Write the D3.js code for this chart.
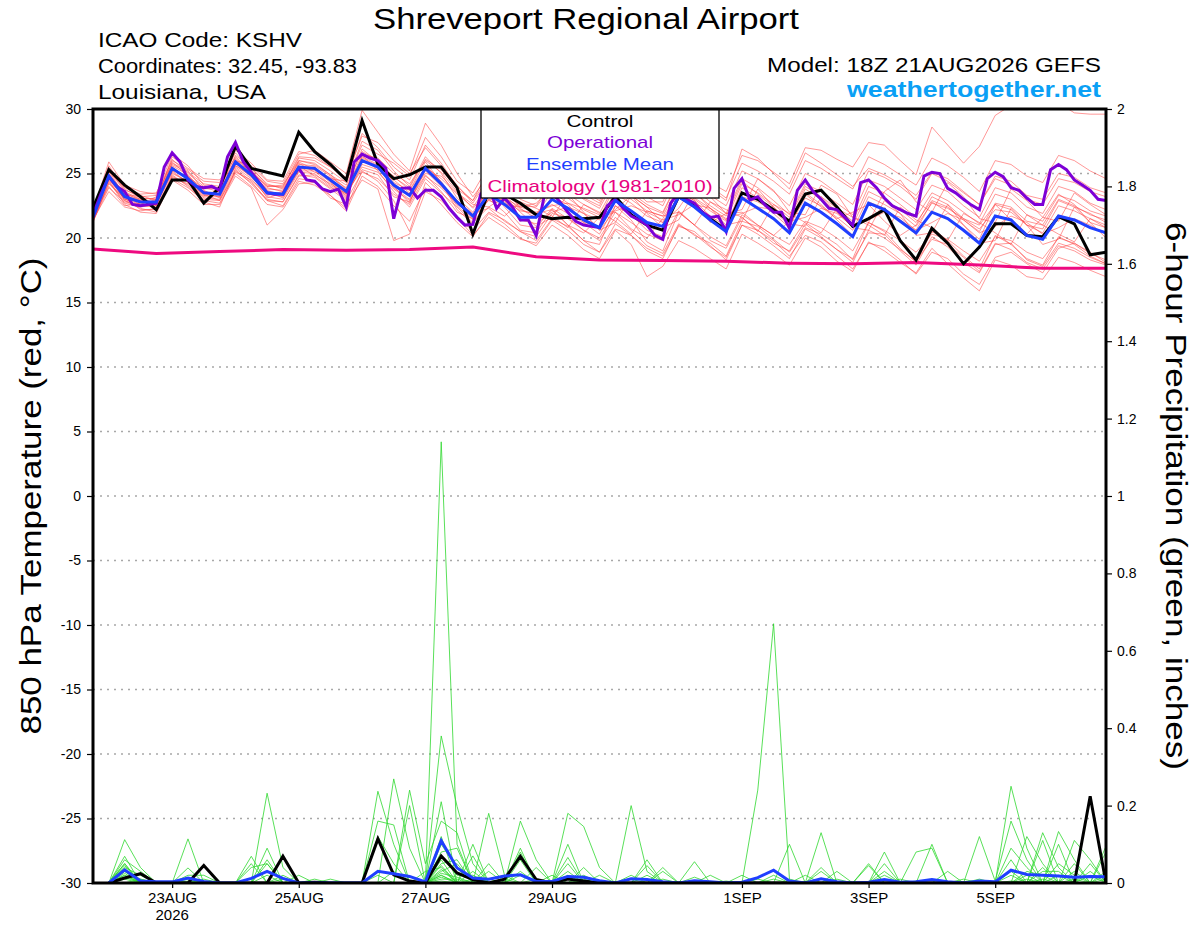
<!DOCTYPE html>
<html><head><meta charset="utf-8">
<script src="https://cdn.jsdelivr.net/npm/d3@7"></script>
<style>
body{margin:0;background:#fff}
svg{display:block}
text{font-family:"Liberation Sans",Arial,Helvetica,sans-serif}
</style>
</head><body>
<svg id="chart" width="1200" height="927"></svg>
<script>
// ---------------- DATA ----------------
const runStartUTC = [2026, 7, 21, 18];      // 18Z 21AUG2026
const tempTicks = [-30,-25,-20,-15,-10,-5,0,5,10,15,20,25,30];
const precipTicks = [0,0.2,0.4,0.6,0.8,1,1.2,1.4,1.6,1.8,2];
const precipTickLabels = ["0","0.2","0.4","0.6","0.8","1","1.2","1.4","1.6","1.8","2"];
const dateTicks = ["2026-08-23","2026-08-25","2026-08-27","2026-08-29","2026-09-01","2026-09-03","2026-09-05"];
const dateTickLabels = ["23AUG","25AUG","27AUG","29AUG","1SEP","3SEP","5SEP"];

// 6-hourly control temperature
const controlTemp = [22.3,25.3,24.1,23.2,22.2,24.5,24.5,22.7,23.9,27.1,25.4,25.1,24.8,28.2,26.7,25.7,24.5,29.1,25.7,24.6,24.9,25.5,25.5,23.9,20.3,23.6,23.4,22.7,21.8,21.5,21.6,21.5,21.6,23.2,21.8,21.0,20.6,23.2,22.5,21.5,20.6,23.5,23.0,22.2,21.3,23.4,23.7,22.4,20.9,21.5,22.2,19.8,18.3,20.75,19.6,18.0,19.3,21.1,21.1,20.2,20.1,21.65,21.1,18.7,18.9];
// 6-hourly ensemble mean temperature
const meanTemp = [21.6,24.8,23.2,22.8,22.8,25.4,24.6,23.5,23.4,25.9,24.9,23.5,23.4,25.5,25.4,24.5,23.6,26.0,25.5,24.1,23.3,25.4,24.2,22.8,21.7,23.4,22.6,21.6,21.6,23.0,22.3,21.4,20.8,22.9,22.1,21.2,20.9,23.2,22.4,21.4,20.5,23.1,22.3,21.5,20.4,22.7,22.0,21.1,20.1,22.7,22.2,21.3,20.4,22.0,21.5,20.6,19.6,21.7,21.4,20.2,19.9,21.7,21.4,20.8,20.4];
// 3-hourly operational temperature
const operationalTemp = [21.8,23.4,24.75,24.0,23.6,22.6,22.5,22.6,22.7,25.5,26.6,25.9,24.5,24.0,23.9,24.0,23.7,26.3,27.4,25.9,25.1,24.3,23.5,23.4,23.4,24.6,25.4,24.5,24.4,23.8,23.6,23.8,22.4,25.9,26.5,26.2,26.0,25.4,21.5,23.85,23.9,23.1,23.7,23.7,23.2,22.3,21.6,21.0,21.05,23.4,24.0,22.3,23.1,22.4,21.4,21.4,20.2,23.2,23.5,22.8,22.0,21.3,21.0,20.9,20.8,22.5,23.0,22.3,21.7,21.4,21.0,20.2,19.9,22.7,23.5,23.0,22.7,22.0,21.6,21.7,20.5,23.85,24.6,22.95,23.2,22.5,22.0,22.0,20.75,23.7,24.5,23.6,23.0,22.3,22.2,21.6,21.0,24.3,24.5,23.9,23.1,22.5,22.2,21.9,21.7,24.8,25.1,25.0,23.85,23.5,23.0,22.55,22.2,24.6,25.1,24.75,23.9,23.7,23.1,22.6,22.6,25.3,25.7,25.3,24.5,24.1,23.7,23.0,22.9];
// daily (18Z) climatology 1981-2010
const climatologyTemp = [19.15,18.8,18.95,19.1,19.05,19.1,19.3,18.55,18.3,18.25,18.2,18.05,18.0,18.1,17.9,17.65,17.65];

// ensemble member temperatures (6-hourly)
const tempMember01 = [21.9,25.6,23.8,23.1,23.0,26.1,25.0,24.0,23.8,26.4,25.5,24.1,23.9,26.2,26.0,25.2,24.3,27.5,26.8,25.2,24.0,26.3,25.0,23.1,22.0,23.8,22.4,21.0,20.8,22.3,21.5,20.6,20.0,22.0,21.2,20.3,19.8,22.1,21.0,20.1,19.4,21.8,21.0,20.2,19.5,21.3,20.8,20.0,19.0,21.2,20.6,19.8,18.9,20.3,19.9,19.0,18.2,20.1,19.8,18.9,18.4,20.0,19.6,18.8,18.3];
const tempMember02 = [21.3,23.9,22.8,22.5,22.4,24.8,24.1,23.0,22.9,25.2,24.3,23.0,22.8,24.9,24.7,23.8,22.9,25.1,24.6,23.4,22.6,24.8,23.9,22.6,21.8,23.9,23.4,22.5,22.4,24.0,23.4,22.6,21.9,24.2,23.5,22.6,22.0,24.5,23.8,22.8,21.9,24.6,23.9,22.9,21.8,24.2,23.6,22.7,21.8,24.5,24.0,23.1,22.2,24.1,23.6,22.5,21.6,23.9,23.5,22.4,21.9,24.0,23.6,22.7,22.2];
const tempMember03 = [21.7,24.9,23.5,22.9,22.6,25.9,24.8,23.6,23.2,26.3,25.2,23.9,23.6,26.0,25.8,24.9,24.1,26.7,26.0,24.7,23.9,26.1,25.3,23.8,22.9,24.7,24.2,23.4,23.0,25.1,24.6,23.6,22.9,25.5,24.8,23.9,23.2,26.0,25.4,24.3,23.6,26.4,26.0,25.1,24.2,27.0,26.8,26.1,25.5,27.4,27.2,26.0,24.9,28.6,27.2,25.8,27.1,29.5,30.3,30.8,31.0,30.5,29.7,29.6,29.6];
const tempMember04 = [21.5,25.0,23.4,23.0,23.1,25.7,25.1,24.2,24.0,26.0,25.6,24.4,24.2,26.5,26.8,25.9,25.0,29.9,28.2,26.5,25.2,28.9,27.2,25.0,23.2,24.8,23.9,22.3,21.5,23.2,22.6,21.2,20.3,22.5,21.8,20.6,20.1,23.6,22.9,21.7,20.9,23.9,23.1,21.9,20.8,23.5,22.6,21.4,20.2,22.8,22.3,21.4,20.6,22.8,22.0,21.0,19.9,22.6,22.2,21.0,20.4,22.5,22.1,21.5,21.0];
const tempMember05 = [21.4,24.3,22.9,22.3,22.0,24.9,24.0,22.8,22.4,25.3,24.2,22.9,22.5,24.6,24.4,23.3,22.1,24.8,24.0,22.5,21.3,23.9,22.6,21.2,20.1,21.9,21.1,20.0,19.4,21.0,20.2,19.1,18.4,20.6,19.5,17.0,17.8,19.8,19.2,18.4,17.6,20.3,19.6,18.8,17.9,20.0,19.3,18.2,17.4,19.7,19.0,18.1,17.3,19.2,18.0,16.9,15.9,18.3,17.9,17.0,16.8,18.5,18.1,17.5,17.0];
const tempMember06 = [21.8,24.6,23.0,22.6,23.2,25.2,24.3,23.8,23.9,25.5,24.6,23.2,23.0,25.1,25.0,24.0,23.0,26.4,25.2,23.6,22.4,24.6,23.5,22.4,21.2,22.4,23.2,22.0,20.9,21.6,23.4,22.0,20.6,21.2,23.3,21.9,20.8,21.4,23.6,22.3,21.0,21.3,23.8,22.4,21.1,20.9,23.2,22.0,20.8,20.6,22.9,21.9,20.2,20.4,22.6,21.0,19.6,19.8,22.3,21.0,19.5,19.9,22.4,21.2,20.0];
const tempMember07 = [21.9,25.3,23.6,23.0,22.5,25.5,24.5,23.3,23.5,25.6,25.0,23.8,23.7,25.8,25.1,24.7,23.9,26.2,25.6,24.8,23.7,25.9,24.3,22.2,21.1,23.0,22.9,22.1,21.9,22.6,21.9,21.2,20.9,23.8,23.0,22.1,21.7,24.0,23.0,22.1,21.3,23.2,22.8,22.1,21.0,23.1,22.5,21.6,20.6,23.2,22.6,21.9,20.9,22.7,22.3,21.5,20.7,22.2,22.0,21.0,20.7,22.9,22.4,21.9,21.2];
const tempMember08 = [21.2,24.4,22.6,22.0,21.9,24.6,23.9,22.9,22.7,25.0,24.0,22.6,22.4,24.4,24.1,23.3,22.3,25.2,24.4,22.9,20.5,24.3,23.1,21.5,20.6,22.0,21.4,20.5,19.8,21.5,20.9,19.8,18.9,20.7,20.2,19.2,18.6,20.9,20.5,19.4,18.3,21.0,20.6,19.8,18.6,20.2,19.7,18.6,17.6,19.6,19.3,18.3,17.2,18.9,18.4,17.2,16.4,18.5,18.9,18.0,17.3,19.2,19.6,18.9,18.1];
const tempMember09 = [22.0,25.1,23.9,23.4,23.5,26.0,25.3,24.4,24.3,26.6,25.3,24.0,24.1,26.0,25.7,24.9,23.8,26.9,25.9,24.3,23.7,25.5,24.6,23.4,22.4,24.1,23.3,22.2,21.8,23.6,22.7,21.9,21.4,23.4,22.7,21.7,21.2,23.8,23.1,22.3,21.4,24.2,23.5,22.6,21.6,24.0,23.2,22.3,21.3,24.0,23.5,22.6,21.6,23.5,22.9,22.0,21.1,23.4,23.0,21.8,21.3,23.3,22.9,22.1,21.7];
const tempMember10 = [21.5,24.5,22.7,22.4,22.6,25.0,24.4,23.1,23.0,25.4,24.4,22.9,22.8,24.8,24.9,24.2,23.4,25.5,25.1,23.8,22.9,24.9,23.6,22.0,21.5,24.0,22.9,21.3,21.9,22.2,21.0,20.4,21.6,22.0,20.7,20.0,21.5,23.6,22.9,21.2,21.9,22.0,21.0,20.2,21.3,23.4,22.4,21.5,22.0,22.6,21.3,20.2,21.0,23.2,22.6,21.5,21.0,22.6,21.4,20.3,21.6,23.4,22.6,21.2,20.8];
const tempMember11 = [22.1,25.9,24.1,23.6,23.4,26.5,25.6,24.1,23.7,26.8,25.8,24.5,24.4,26.7,26.4,25.5,24.5,28.1,27.0,25.5,24.5,27.2,25.8,24.0,22.9,25.3,24.5,23.5,23.2,25.4,24.5,23.4,22.7,25.0,24.3,23.2,22.5,25.1,24.3,23.3,22.5,25.2,24.6,23.6,22.5,25.0,24.4,23.5,22.6,25.2,24.7,24.0,23.0,25.0,24.4,23.5,22.6,24.8,24.4,23.3,23.0,25.0,24.7,23.9,23.5];
const tempMember12 = [21.6,24.0,22.5,22.7,22.9,25.6,24.9,23.6,23.3,25.8,24.7,23.6,23.1,25.3,25.5,24.4,23.2,25.7,25.3,24.5,23.5,25.0,24.8,23.5,22.6,22.4,21.7,22.8,22.3,21.7,20.8,22.6,22.0,21.3,20.3,22.1,21.7,22.0,21.0,22.8,22.2,21.6,20.5,22.6,21.9,21.2,20.4,22.3,21.6,21.0,20.2,22.4,21.4,20.8,19.8,21.9,21.2,20.4,19.5,21.8,21.0,20.3,19.7,21.5,20.8];
const tempMember13 = [21.3,24.2,23.1,22.2,22.2,24.7,24.2,23.4,22.9,25.1,24.5,23.3,23.6,25.6,24.8,23.9,23.5,25.3,24.9,23.2,22.8,25.2,24.0,22.9,21.9,22.3,21.3,20.5,20.1,21.9,21.6,20.6,19.8,21.6,20.6,19.4,18.8,21.1,20.2,19.6,18.6,21.3,20.9,19.9,18.9,20.8,20.3,19.5,18.3,20.4,20.3,19.0,17.9,20.1,19.3,18.1,17.3,19.5,19.6,18.3,17.8,19.6,19.2,18.5,18.0];
const tempMember14 = [21.8,25.2,23.3,22.9,22.7,25.3,24.7,23.9,23.6,26.1,25.1,23.7,23.3,25.7,25.6,24.8,23.7,26.5,26.2,25.0,24.2,26.0,25.1,23.6,22.3,23.5,23.1,22.4,22.7,23.9,23.1,22.2,21.6,24.0,23.3,22.4,21.9,24.4,23.5,22.5,21.7,24.4,23.4,22.4,21.3,23.8,23.0,22.0,21.0,23.6,23.0,22.2,21.2,22.9,22.4,21.4,20.5,22.7,22.4,21.3,21.0,23.0,22.5,21.8,21.4];
const tempMember15 = [21.4,23.6,22.4,22.1,22.3,24.5,23.7,22.6,22.6,24.8,23.9,21.0,22.2,24.2,24.3,23.1,22.6,24.5,23.8,19.8,20.3,23.6,22.9,21.6,20.2,21.6,20.8,19.9,19.6,21.4,20.6,19.5,18.9,21.1,20.2,19.0,18.4,21.0,20.3,19.3,18.5,21.0,20.3,19.4,18.4,20.7,20.0,19.1,18.1,20.6,20.0,19.1,18.2,19.9,19.5,18.5,17.4,19.6,19.1,18.1,17.6,19.4,19.0,18.3,17.9];
const tempMember16 = [21.7,24.7,23.4,23.2,23.3,25.8,25.2,23.7,23.1,25.7,25.4,24.2,23.8,25.9,25.3,24.6,24.4,27.2,26.5,25.8,24.8,27.8,26.3,24.4,23.5,25.6,24.8,23.9,23.6,24.9,24.0,23.0,22.3,24.6,23.9,22.8,22.8,25.6,24.9,24.0,23.1,25.8,25.2,24.4,23.4,26.0,25.4,24.6,23.8,26.3,25.7,24.9,24.1,26.2,25.6,24.7,23.6,26.0,25.7,24.8,24.3,26.4,26.0,25.2,24.6];
const tempMember17 = [21.5,24.9,22.9,22.5,22.8,25.1,24.3,23.2,23.2,25.6,24.8,23.4,23.2,25.2,25.2,24.1,23.3,26.1,25.4,23.9,23.0,25.3,24.1,22.5,21.4,23.6,22.8,21.4,21.1,22.0,22.4,21.9,20.6,22.2,23.3,22.4,21.2,22.3,24.1,23.2,21.9,22.2,24.6,23.7,22.0,21.8,24.1,23.4,21.6,21.2,23.6,24.5,22.8,22.0,24.3,23.2,21.5,21.2,23.8,22.9,21.6,21.3,23.5,22.6,21.8];
const tempMember18 = [21.9,25.4,23.7,23.3,22.9,26.3,25.4,24.6,24.5,26.2,25.1,24.0,24.0,26.3,26.2,25.5,24.7,27.9,27.4,26.0,25.0,27.0,25.6,24.1,22.7,24.6,24.0,23.0,22.5,24.4,23.9,23.1,22.5,25.0,24.4,23.5,23.1,25.3,24.6,23.8,22.9,26.9,26.2,25.0,23.8,26.6,25.8,24.9,24.0,25.4,24.9,24.2,23.3,25.1,24.6,23.6,22.6,24.6,24.1,23.0,22.6,24.6,24.3,23.6,23.2];
const tempMember19 = [21.6,24.6,23.0,22.8,22.5,25.2,24.8,23.3,23.4,25.9,24.9,23.1,23.5,25.4,25.3,24.3,23.1,26.3,25.7,24.0,22.7,25.6,24.4,22.7,21.5,23.0,22.0,20.6,20.4,22.2,21.0,19.8,19.5,22.5,21.4,19.7,19.0,22.0,21.0,19.8,19.2,21.6,20.6,19.6,19.0,21.1,20.1,19.1,18.4,21.2,20.5,19.2,18.1,20.5,19.8,18.6,17.6,20.2,19.5,18.4,17.9,20.1,19.5,18.6,18.0];
const tempMember20 = [21.7,25.0,23.2,22.6,23.0,25.5,24.5,23.5,23.6,26.0,25.0,23.5,23.4,25.5,25.5,24.4,23.4,25.9,25.5,24.2,23.4,25.5,24.2,22.9,21.8,22.9,22.6,22.4,22.0,22.5,22.7,22.3,21.8,22.1,22.5,22.0,21.4,21.8,22.6,22.3,21.5,21.9,22.4,22.2,21.3,21.6,22.3,21.9,20.9,21.4,22.0,21.6,20.6,21.2,21.9,21.4,20.4,20.9,21.7,21.2,20.3,20.8,21.5,21.0,20.3];

// 6-hour precipitation (inches); first step has no accumulation
const controlPrecip = [null,0,0.013,0.024,0,0,0,0.045, 0,0,0,0,0.069,0,0.002,0, 0,0,0.114,0.021,0.005,0,0.07,0.026, 0.009,0,0.01,0.069,0.009,0,0.01,0.005, 0,0,0,0,0,0,0,0, 0,0,0,0,0,0,0,0, 0,0,0,0,0,0,0,0, 0,0,0,0,0,0,0,0.224, 0];
const meanPrecip = [null,0,0.034,0.005,0.003,0.003,0.013,0.004, 0,0,0.012,0.03,0.012,0,0,0, 0,0,0.03,0.024,0.017,0.003,0.109,0.039, 0.013,0.01,0.018,0.021,0.004,0.004,0.017,0.015, 0.006,0,0.011,0.009,0.003,0,0.006,0.003, 0,0.002,0.014,0.033,0.005,0,0.011,0.003, 0,0.002,0.009,0.002,0.003,0.009,0.003,0, 0.005,0.003,0.033,0.022,0.02,0.018,0.015,0.017, 0.016];
const precipMember01 = [null,0,0.112,0.04,0,0,0,0, 0,0,0,0.05,0,0,0,0, 0,0,0.237,0.1,0,0,1.14,0.1, 0,0,0,0,0,0,0.05,0, 0,0,0,0,0,0,0,0, 0,0,0,0.02,0,0,0,0, 0,0,0,0,0,0,0,0, 0,0,0.06,0,0,0.1,0,0, 0];
const precipMember02 = [null,0,0.069,0,0,0,0.114,0, 0,0,0,0.232,0.04,0,0,0, 0,0,0,0,0,0,0.38,0.198, 0.05,0,0,0,0,0,0,0, 0,0,0.2,0.03,0,0,0,0, 0,0,0,0,0,0,0,0, 0,0,0.03,0,0,0,0,0, 0,0,0,0.12,0.05,0,0,0, 0];
const precipMember03 = [null,0,0.06,0.03,0,0,0,0, 0,0,0.069,0,0,0,0,0, 0,0,0,0.269,0.09,0,0.21,0, 0,0.18,0.02,0,0,0,0.18,0.146, 0.04,0,0,0,0,0,0,0, 0,0,0,0,0,0,0.13,0, 0,0,0,0,0,0,0,0, 0,0,0.25,0.09,0,0,0.05,0, 0];
const precipMember04 = [null,0,0.05,0,0,0,0.039,0, 0,0,0,0.09,0,0,0,0, 0,0,0,0,0.24,0.05,0.16,0.13, 0,0,0,0.16,0.06,0,0,0, 0,0,0,0,0,0,0,0, 0,0,0.24,0.67,0.01,0,0,0, 0,0,0,0,0,0.1,0,0, 0,0,0,0,0.13,0.04,0,0, 0];
const precipMember05 = [null,0,0.045,0,0,0,0,0, 0,0,0.05,0,0.069,0,0,0, 0,0,0.16,0.15,0,0,0.12,0, 0.1,0,0,0.09,0,0,0.1,0, 0,0,0,0,0.04,0,0,0, 0,0,0,0,0,0,0,0, 0,0.05,0,0,0,0,0,0, 0.12,0.005,0.16,0.06,0,0,0.11,0.06, 0];
const precipMember06 = [null,0,0.04,0.02,0,0,0,0, 0,0,0,0.06,0,0.02,0,0, 0,0,0,0,0.2,0,0.08,0.09, 0,0,0,0.08,0,0,0,0.04, 0,0,0,0,0,0,0.055,0, 0,0,0,0,0.1,0,0,0, 0,0,0.08,0,0,0,0,0, 0,0,0,0,0,0.133,0.06,0, 0.095];
const precipMember07 = [null,0,0.03,0,0,0,0.02,0.02, 0,0,0,0,0,0,0.01,0, 0,0,0.12,0.05,0,0,0.05,0.06, 0,0.05,0,0,0.04,0,0.066,0, 0,0,0,0.06,0,0,0,0, 0,0,0,0,0,0,0.04,0, 0,0,0,0,0.08,0.09,0,0, 0,0,0,0,0.11,0,0,0.05, 0];
const precipMember08 = [null,0,0.05,0,0,0,0,0, 0,0,0.04,0.05,0,0,0,0.01, 0,0,0,0,0,0.03,0.04,0, 0.07,0,0,0.06,0,0.02,0,0, 0,0,0.02,0,0.03,0,0,0.02, 0,0,0,0,0,0,0,0.03, 0,0,0.05,0,0,0,0,0, 0,0,0.09,0.04,0,0,0,0, 0.08];
const precipMember09 = [null,0,0.035,0,0,0,0,0, 0,0,0,0,0.01,0,0,0, 0,0,0,0,0,0,0.03,0.05, 0,0.03,0,0,0,0,0,0, 0.02,0,0,0.045,0,0,0,0, 0,0.02,0,0,0,0,0.03,0, 0,0.045,0,0,0,0,0.03,0, 0,0,0,0,0.03,0.03,0,0.03, 0];
const precipMember10 = [null,0,0.03,0.01,0,0,0,0, 0,0,0,0,0,0,0,0, 0,0,0,0,0,0,0.06,0, 0.03,0,0,0,0,0,0.03,0, 0,0,0,0,0,0,0.015,0, 0,0,0,0,0,0.02,0,0, 0,0,0,0,0,0,0,0.01, 0,0,0,0.02,0,0,0,0, 0.02];
const precipMember11 = [null,0,0.02,0,0,0,0,0.01, 0,0,0,0,0,0,0,0, 0,0,0,0,0,0,0.1,0.04, 0,0,0.01,0,0,0,0,0.02, 0,0,0,0,0,0,0,0, 0.005,0,0,0,0,0,0,0, 0,0,0,0.01,0,0,0,0, 0,0,0.03,0,0,0,0.03,0, 0];
const precipMember12 = [null,0,0,0,0,0,0.01,0, 0,0,0,0,0,0,0,0, 0,0,0,0.03,0,0,0.07,0.02, 0.02,0,0,0,0.01,0,0,0, 0,0,0,0.02,0,0,0,0, 0,0,0,0.01,0,0,0,0.01, 0,0,0,0,0,0,0,0, 0.01,0,0,0,0,0.02,0,0, 0.03];
const precipMember13 = [null,0,0.025,0,0,0,0,0, 0,0,0,0.02,0,0,0,0, 0,0,0,0,0,0,0.02,0, 0,0,0,0.03,0,0,0.02,0, 0,0,0,0,0,0,0,0, 0,0,0.01,0,0,0,0,0, 0,0,0,0,0,0,0,0, 0,0,0,0.03,0.02,0,0,0, 0];
const precipMember14 = [null,0,0.015,0,0,0,0,0, 0,0,0,0,0,0,0,0, 0,0,0,0,0,0,0.035,0, 0,0.01,0,0,0,0,0,0, 0,0,0.01,0,0,0,0,0, 0,0,0,0,0,0,0,0, 0,0,0.02,0,0,0,0,0, 0,0,0.02,0,0,0,0,0.02, 0];
const precipMember15 = [null,0,0,0,0,0,0,0, 0,0,0,0,0.02,0,0,0, 0,0,0,0,0,0,0.025,0.015, 0,0,0,0,0,0,0,0, 0,0,0,0,0.01,0,0,0, 0,0,0,0,0,0,0,0, 0,0,0,0,0,0.01,0,0, 0,0,0,0,0.04,0,0,0, 0];
const precipMember16 = [null,0,0,0.01,0,0,0,0, 0,0,0,0,0,0,0,0, 0,0,0.02,0,0,0,0.045,0, 0,0,0,0,0,0,0,0.01, 0,0,0,0,0,0,0,0, 0,0,0,0,0,0,0.01,0, 0,0,0,0,0,0,0,0, 0,0,0,0,0,0.05,0.02,0, 0];
const precipMember17 = [null,0,0.02,0,0,0,0,0, 0,0,0,0,0,0,0,0, 0,0,0,0,0,0,0.015,0, 0.01,0,0,0,0,0,0.01,0, 0,0,0,0,0,0,0,0, 0,0,0,0,0,0,0,0, 0,0,0,0,0,0,0,0, 0,0,0,0.01,0,0,0,0, 0.01];
const precipMember18 = [null,0,0,0,0,0,0.005,0, 0,0,0,0,0,0,0,0, 0,0,0,0,0,0,0.02,0, 0,0,0,0.02,0,0,0,0, 0,0,0,0,0,0,0,0, 0,0,0,0,0,0,0,0, 0,0,0,0,0.005,0,0,0, 0,0,0,0,0,0,0.01,0, 0];
const precipMember19 = [null,0,0.01,0,0,0,0,0, 0,0,0,0,0,0,0,0, 0,0,0,0,0,0,0.01,0.01, 0,0,0,0,0,0,0,0, 0,0,0,0,0,0,0,0, 0,0,0,0,0,0,0,0, 0,0,0,0,0,0,0,0, 0,0,0,0,0.01,0,0,0, 0];
const precipMember20 = [null,0,0,0,0,0,0,0, 0,0,0,0,0,0,0,0, 0,0,0,0,0,0,0.005,0, 0,0,0,0,0,0,0,0, 0,0,0,0,0,0,0,0, 0,0,0,0,0,0,0,0, 0,0,0,0,0,0,0,0, 0,0,0.005,0,0,0,0,0, 0];

const tempMembers = [tempMember01,tempMember02,tempMember03,tempMember04,tempMember05,tempMember06,tempMember07,tempMember08,tempMember09,tempMember10,tempMember11,tempMember12,tempMember13,tempMember14,tempMember15,tempMember16,tempMember17,tempMember18,tempMember19,tempMember20];
const precipMembers = [precipMember01,precipMember02,precipMember03,precipMember04,precipMember05,precipMember06,precipMember07,precipMember08,precipMember09,precipMember10,precipMember11,precipMember12,precipMember13,precipMember14,precipMember15,precipMember16,precipMember17,precipMember18,precipMember19,precipMember20];

// ---------------- CHART ----------------
const svg = d3.select("#chart");
const plot = {left:93, right:1106, top:109, bottom:883};
const HOUR = 3600e3;
const t0 = Date.UTC(...runStartUTC);
const times6 = controlTemp.map((d,i) => new Date(t0 + i*6*HOUR));
const times3 = operationalTemp.map((d,i) => new Date(t0 + i*3*HOUR));
const timesClim = climatologyTemp.map((d,i) => new Date(t0 + i*24*HOUR));

const x = d3.scaleUtc().domain([times6[0], times6[times6.length-1]]).range([plot.left, plot.right]);
const yT = d3.scaleLinear().domain([-30,30]).range([plot.bottom, plot.top]);
const yP = d3.scaleLinear().domain([0,2]).range([plot.bottom, plot.top]);

svg.append("rect").attr("width",1200).attr("height",927).attr("fill","#fff");

svg.append("defs").append("clipPath").attr("id","clip")
  .append("rect").attr("x",plot.left).attr("y",plot.top)
  .attr("width",plot.right-plot.left).attr("height",plot.bottom-plot.top);

// gridlines
svg.append("g").selectAll("line").data(tempTicks.filter(v => v>-30 && v<30)).join("line")
  .attr("x1",plot.left).attr("x2",plot.right)
  .attr("y1",d=>yT(d)).attr("y2",d=>yT(d))
  .attr("stroke","#a8a8a8").attr("stroke-width",1.3).attr("stroke-dasharray","2,5");

const g = svg.append("g").attr("clip-path","url(#clip)");
const lineOn = (times, yScale) => d3.line().defined(d => d != null).x((d,i)=>x(times[i])).y(d=>yScale(d));

// ensemble member temperatures
g.append("g").selectAll("path").data(tempMembers).join("path")
  .attr("d", lineOn(times6, yT)).attr("fill","none")
  .attr("stroke","#ff3a3a").attr("stroke-width",0.7).attr("stroke-opacity",0.75);

// ensemble member precip
g.append("g").selectAll("path").data(precipMembers).join("path")
  .attr("d", lineOn(times6, yP)).attr("fill","none")
  .attr("stroke","#2ed82e").attr("stroke-width",0.8);

// climatology
g.append("path").attr("d", lineOn(timesClim, yT)(climatologyTemp)).attr("fill","none")
  .attr("stroke","#ee0a80").attr("stroke-width",3).attr("stroke-linejoin","round");
// control temp
g.append("path").attr("d", lineOn(times6, yT)(controlTemp)).attr("fill","none")
  .attr("stroke","#000").attr("stroke-width",3);
// operational
g.append("path").attr("d", lineOn(times3, yT)(operationalTemp)).attr("fill","none")
  .attr("stroke","#7d00d6").attr("stroke-width",3);
// mean
g.append("path").attr("d", lineOn(times6, yT)(meanTemp)).attr("fill","none")
  .attr("stroke","#1f3fff").attr("stroke-width",3);
// control precip
g.append("path").attr("d", lineOn(times6, yP)(controlPrecip)).attr("fill","none")
  .attr("stroke","#000").attr("stroke-width",3);
// mean precip
g.append("path").attr("d", lineOn(times6, yP)(meanPrecip)).attr("fill","none")
  .attr("stroke","#1f3fff").attr("stroke-width",3);

// legend box
const leg = svg.append("g");
leg.append("rect").attr("x",481).attr("y",plot.top).attr("width",238).attr("height",89)
  .attr("fill","#fff").attr("stroke","#000").attr("stroke-width",1.3);
const legendItems = [
  {t:"Control", c:"#000", y:127, w:67},
  {t:"Operational", c:"#7d00d6", y:148, w:106},
  {t:"Ensemble Mean", c:"#1f3fff", y:170, w:148},
  {t:"Climatology (1981-2010)", c:"#e8007f", y:192, w:225}
];
leg.selectAll("text").data(legendItems).join("text")
  .attr("x",600).attr("y",d=>d.y).attr("text-anchor","middle")
  .attr("font-size",17).attr("fill",d=>d.c)
  .attr("textLength",d=>d.w).attr("lengthAdjust","spacingAndGlyphs")
  .text(d=>d.t);

// frame
svg.append("rect").attr("x",plot.left).attr("y",plot.top)
  .attr("width",plot.right-plot.left).attr("height",plot.bottom-plot.top)
  .attr("fill","none").attr("stroke","#000").attr("stroke-width",3);

// axes
const axL = svg.append("g").attr("transform",`translate(${plot.left},0)`)
  .call(d3.axisLeft(yT).tickValues(tempTicks).tickSize(6).tickPadding(6).tickFormat(d=>String(d)));
const axR = svg.append("g").attr("transform",`translate(${plot.right},0)`)
  .call(d3.axisRight(yP).tickValues(precipTicks).tickSize(6).tickPadding(5).tickFormat((d,i)=>precipTickLabels[i]));
const axB = svg.append("g").attr("transform",`translate(0,${plot.bottom})`)
  .call(d3.axisBottom(x).tickValues(dateTicks.map(s=>new Date(s+"T00:00:00Z"))).tickSize(5).tickPadding(4).tickFormat((d,i)=>dateTickLabels[i]));
[axL,axR,axB].forEach(a=>{
  a.select(".domain").remove();
  a.selectAll("line").attr("stroke","#000").attr("stroke-width",1.2);
  a.selectAll("text").attr("font-family","Liberation Sans, Arial, sans-serif").attr("fill","#000");
});
axL.selectAll("text").attr("font-size",14);
axR.selectAll("text").attr("font-size",14);
axB.selectAll("text").attr("font-size",15);
svg.append("text").attr("x",x(new Date(dateTicks[0]+"T00:00:00Z"))).attr("y",920)
  .attr("text-anchor","middle").attr("font-size",15).text("2026");

// titles
svg.append("text").attr("x",586).attr("y",29).attr("text-anchor","middle")
  .attr("font-size",30).attr("textLength",426).attr("lengthAdjust","spacingAndGlyphs")
  .text("Shreveport Regional Airport");
const infoLines = [
  {t:"ICAO Code: KSHV", y:47, w:204},
  {t:"Coordinates: 32.45, -93.83", y:73, w:259},
  {t:"Louisiana, USA", y:99, w:168}
];
svg.selectAll("text.info").data(infoLines).join("text").attr("class","info")
  .attr("x",98).attr("y",d=>d.y).attr("font-size",21)
  .attr("textLength",d=>d.w).attr("lengthAdjust","spacingAndGlyphs").text(d=>d.t);
svg.append("text").attr("x",1101).attr("y",72).attr("text-anchor","end")
  .attr("font-size",21).attr("textLength",334).attr("lengthAdjust","spacingAndGlyphs")
  .text("Model: 18Z 21AUG2026 GEFS");
svg.append("text").attr("x",1101).attr("y",97).attr("text-anchor","end")
  .attr("font-size",22).attr("font-weight","bold").attr("fill","#0aa0f5")
  .attr("textLength",254).attr("lengthAdjust","spacingAndGlyphs")
  .text("weathertogether.net");

// axis titles
svg.append("text").attr("transform","translate(41,496) rotate(-90)")
  .attr("text-anchor","middle").attr("font-size",30)
  .attr("textLength",477).attr("lengthAdjust","spacingAndGlyphs")
  .text("850 hPa Temperature (red, \u00B0C)");
svg.append("text").attr("transform","translate(1166,496) rotate(90)")
  .attr("text-anchor","middle").attr("font-size",30)
  .attr("textLength",548).attr("lengthAdjust","spacingAndGlyphs")
  .text("6-hour Precipitation (green, inches)");
</script>
</body></html>
